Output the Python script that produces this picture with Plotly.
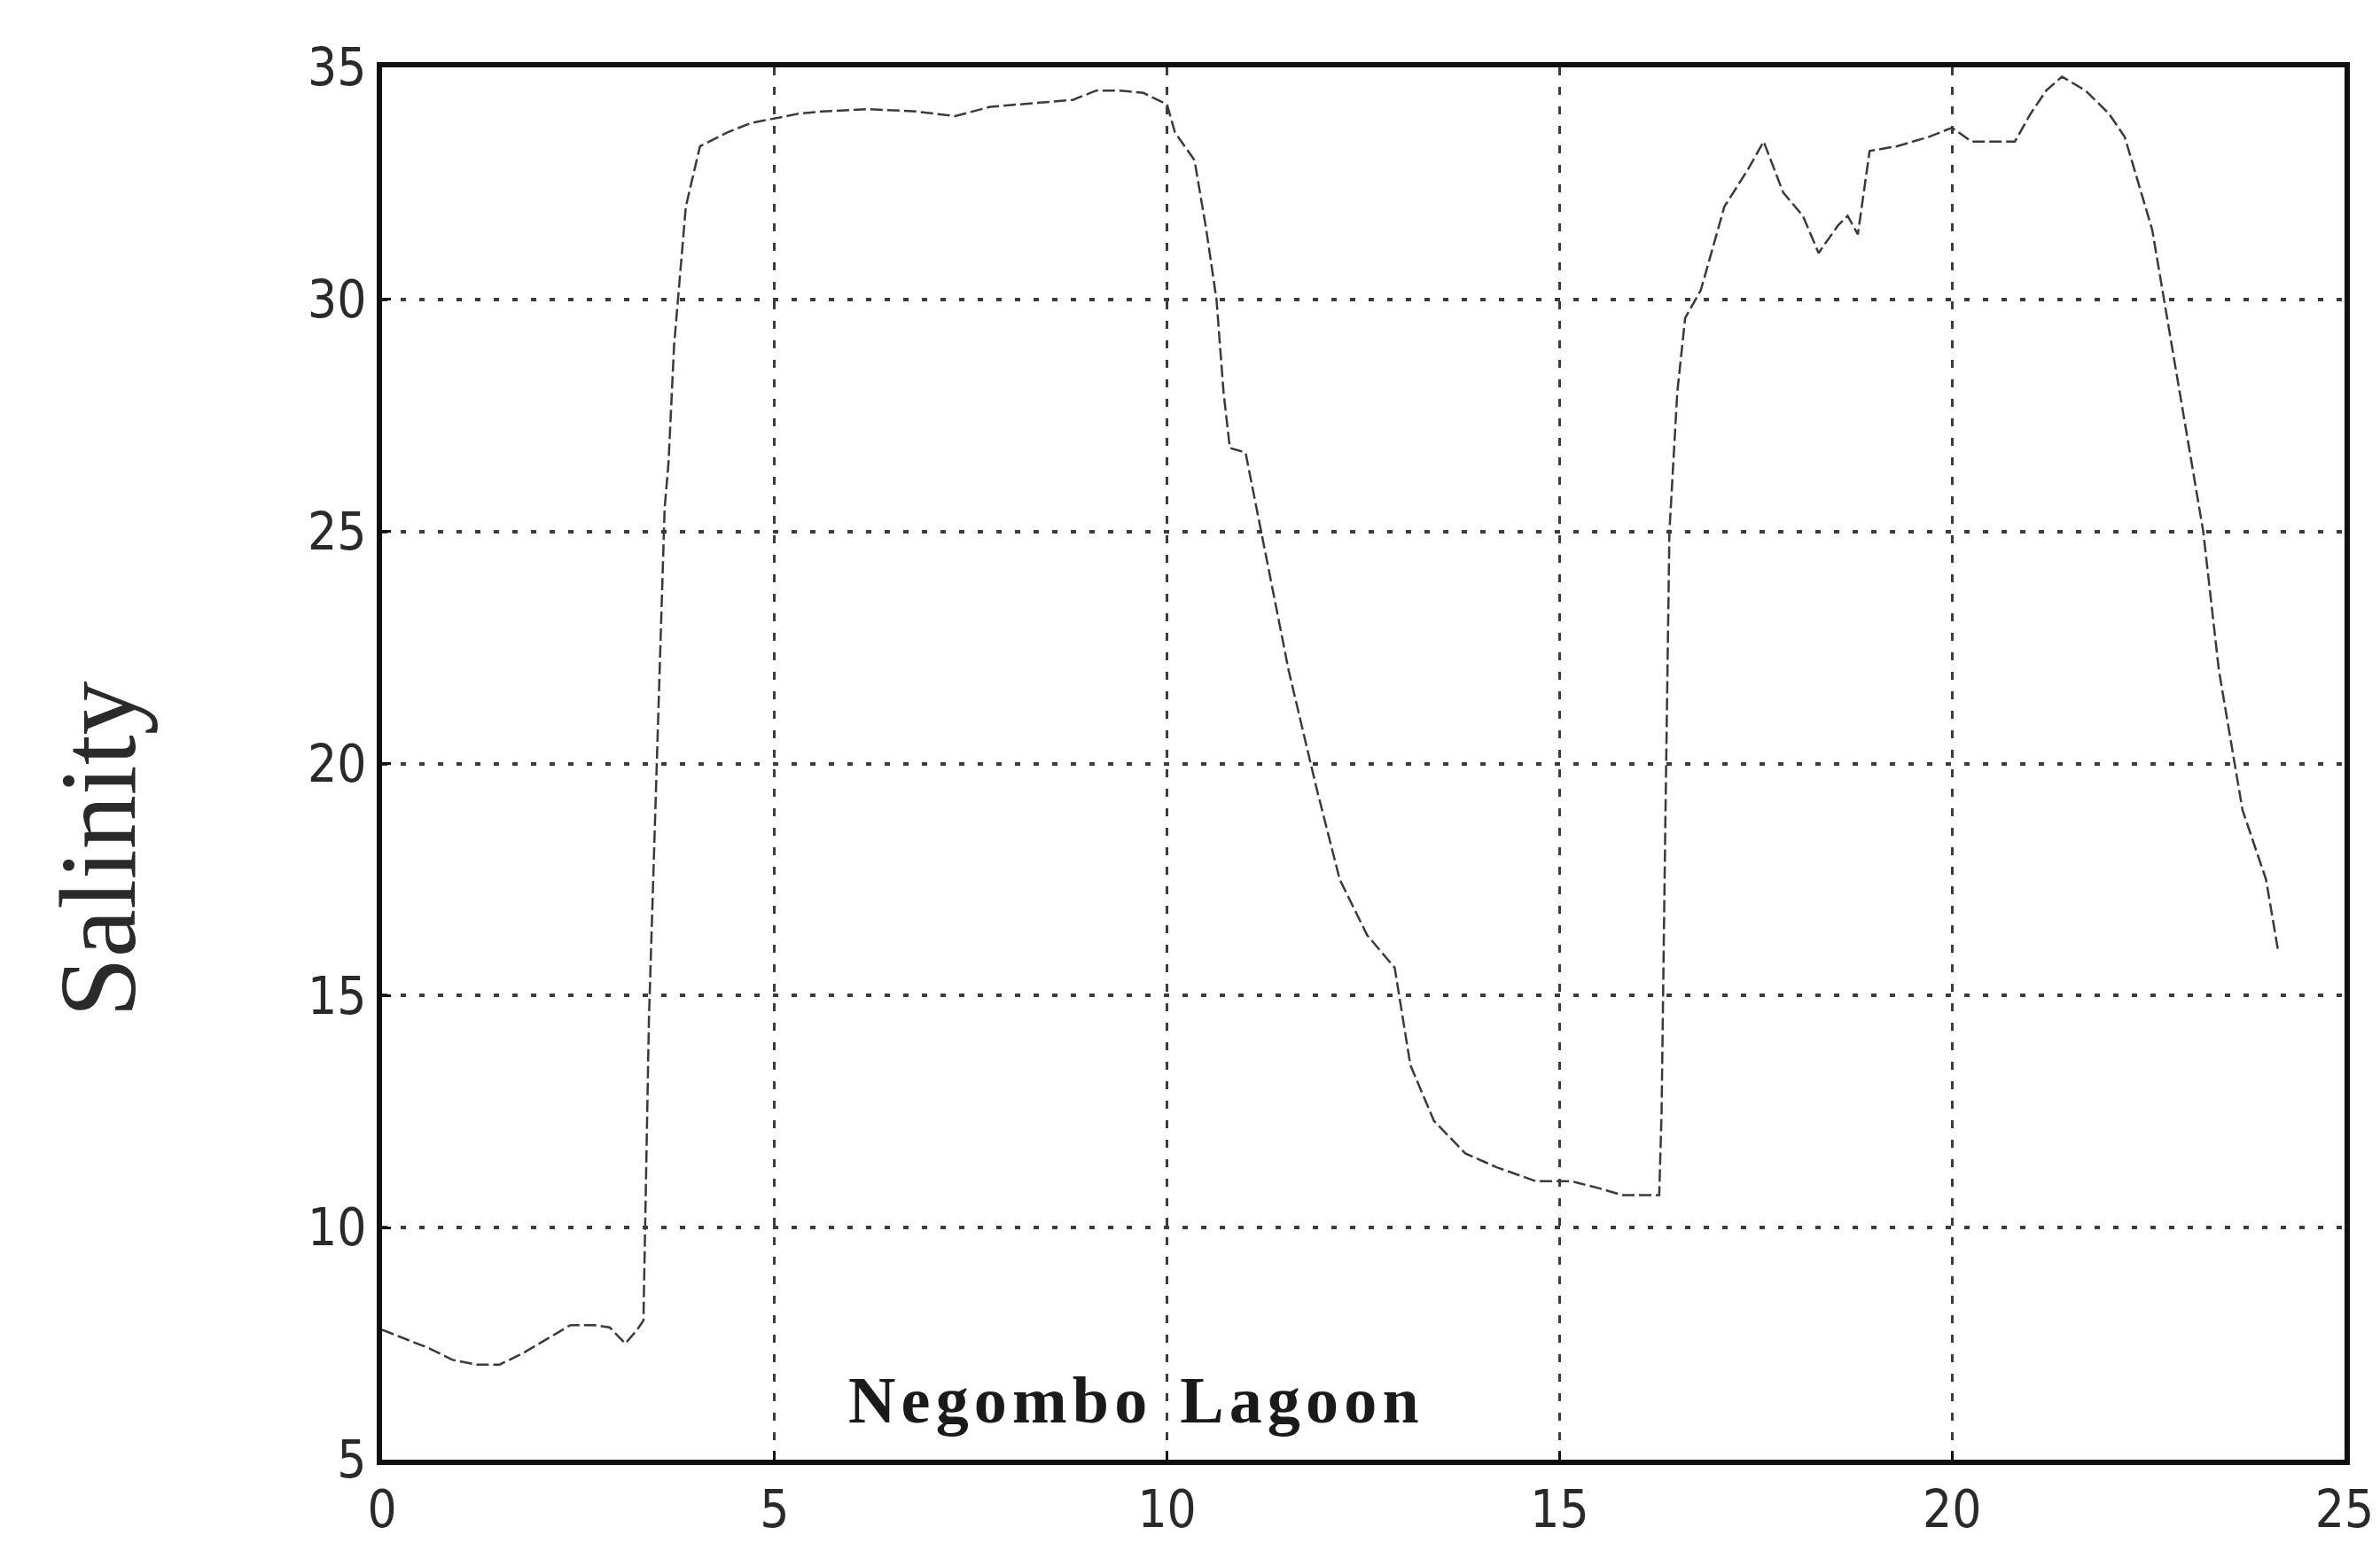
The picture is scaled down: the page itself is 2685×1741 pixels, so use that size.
import plotly.graph_objects as go

# Distance along transect and salinity readings
distance = [0.0, 0.3, 0.6, 0.9, 1.2, 1.5, 1.8, 2.1, 2.4, 2.7, 2.9, 3.1, 3.25, 3.33,
            3.4, 3.5, 3.6, 3.65, 3.72, 3.77, 3.87, 4.05, 4.4, 4.7, 5.0, 5.3, 5.6,
            6.2, 6.8, 7.3, 7.75, 8.1, 8.5, 8.8, 9.1, 9.4, 9.7, 10.0, 10.1, 10.35,
            10.5, 10.63, 10.72, 10.8, 11.0, 11.2, 11.55, 11.9, 12.2, 12.55, 12.9,
            13.1, 13.4, 13.8, 14.2, 14.7, 15.15, 15.5, 15.8, 16.27, 16.3, 16.35,
            16.4, 16.5, 16.6, 16.8, 17.1, 17.4, 17.6, 17.85, 18.1, 18.3, 18.55,
            18.67, 18.8, 18.95, 19.3, 19.7, 20.0, 20.25, 20.8, 21.0, 21.2, 21.4,
            21.7, 22.0, 22.2, 22.55, 22.9, 23.2, 23.4, 23.7, 24.0, 24.15]
salinity = [7.8, 7.6, 7.4, 7.15, 7.05, 7.05, 7.3, 7.6, 7.9, 7.9, 7.85, 7.5, 7.8, 8.0,
            14.5, 20.0, 25.5, 26.5, 29.0, 30.0, 32.0, 33.3, 33.6, 33.8, 33.9, 34.0,
            34.05, 34.1, 34.05, 33.95, 34.15, 34.2, 34.25, 34.3, 34.5, 34.5, 34.45,
            34.2, 33.6, 33.0, 31.5, 30.0, 28.0, 26.8, 26.7, 25.0, 22.0, 19.5, 17.5,
            16.3, 15.6, 13.5, 12.3, 11.6, 11.3, 11.0, 11.0, 10.85, 10.7, 10.7,
            12.5, 19.0, 25.0, 28.0, 29.6, 30.2, 32.0, 32.8, 33.4, 32.3, 31.8, 31.0,
            31.6, 31.8, 31.4, 33.2, 33.3, 33.5, 33.7, 33.4, 33.4, 34.0, 34.5, 34.8,
            34.5, 34.0, 33.5, 31.5, 28.0, 25.0, 22.0, 19.0, 17.5, 16.0]

x_ticks = [0, 5, 10, 15, 20, 25]
y_ticks = [5, 10, 15, 20, 25, 30, 35]

fig = go.Figure()
fig.add_trace(go.Scatter(
    x=distance, y=salinity, mode="lines",
    line=dict(color="#3a3a3a", width=2.5, dash="14px,5px"),
    showlegend=False, hoverinfo="skip",
))

tick_font = dict(family="DejaVu Sans Condensed", size=58, color="#2a2a2a")

fig.update_xaxes(
    range=[0, 25], tickvals=x_ticks, ticktext=[str(v) for v in x_ticks],
    showgrid=True, gridcolor="#3c3c3c", gridwidth=3, griddash="9px,13px",
    showline=True, linecolor="#111111", linewidth=6, mirror=True,
    ticks="inside", ticklen=10, tickwidth=3, tickcolor="#111111",
    tickfont=tick_font, zeroline=False,
)
fig.update_yaxes(
    range=[5, 35], tickvals=y_ticks, ticktext=[str(v) for v in y_ticks],
    showgrid=True, gridcolor="#3c3c3c", gridwidth=4, griddash="6px,15px",
    showline=True, linecolor="#111111", linewidth=6, mirror=True,
    ticks="inside", ticklen=10, tickwidth=3, tickcolor="#111111",
    tickfont=tick_font, zeroline=False,
)

# y-axis title placed as a rotated annotation to match the reference position
fig.add_annotation(
    x=-0.1445, y=0.4386, xref="paper", yref="paper", showarrow=False,
    text="Salinity", textangle=-90, xanchor="center", yanchor="middle",
    font=dict(family="Liberation Serif", size=122, color="#2a2a2a"),
)

fig.add_annotation(
    x=9.58, y=6.28, xref="x", yref="y", showarrow=False,
    text="<b>" + "N e g o m b o  L a g o o n".replace("  ", "\u2002").replace(" ", "\u200a") + "</b>",
    font=dict(family="Liberation Serif", size=74, color="#1a1a1a"),
)

fig.update_layout(
    width=2685, height=1741,
    margin=dict(l=423, r=48, t=68, b=102),
    plot_bgcolor="white", paper_bgcolor="white",
)

fig.write_html("out.html")
